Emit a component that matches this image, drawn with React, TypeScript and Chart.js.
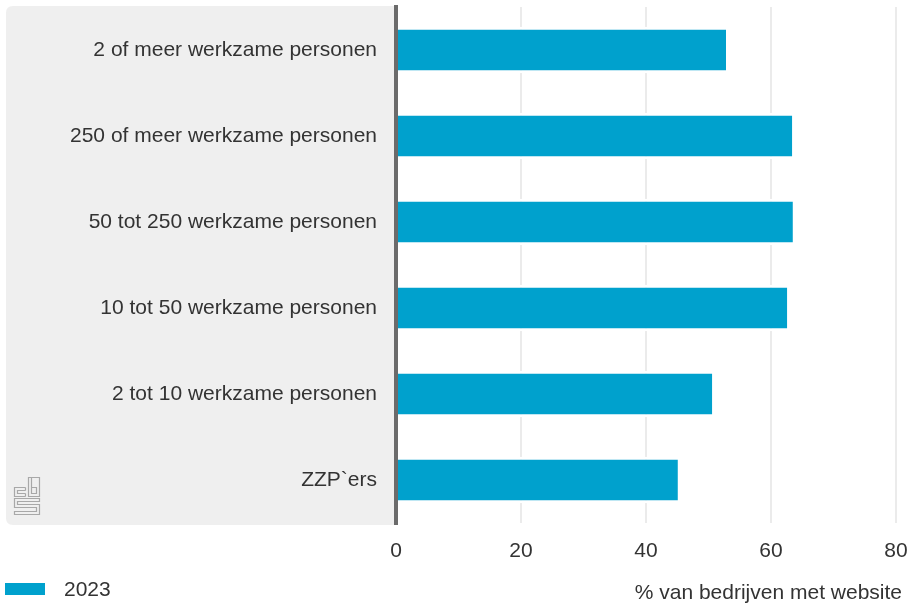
import React, { useEffect, useRef } from "react";
import { Chart, registerables } from "chart.js";

Chart.register(...registerables);

const categories = [
  "2 of meer werkzame personen",
  "250 of meer werkzame personen",
  "50 tot 250 werkzame personen",
  "10 tot 50 werkzame personen",
  "2 tot 10 werkzame personen",
  "ZZP`ers",
];
const values2023 = [52.8, 63.4, 63.5, 62.6, 50.6, 45.1];
const seriesLabel = "2023";
const xAxisTitle = "% van bedrijven met website";
const xMin = 0;
const xMax = 80;
const xStep = 20;

const FONT = "'Liberation Sans', Arial, sans-serif";
const BLUE = "#00a1cd";
const TEXT = "#333333";
const FS = 21;

const decorPlugin = {
  id: "decor",
  beforeDraw(chart: any) {
    const ctx = chart.ctx;
    const area = chart.chartArea;
    ctx.save();
    // gray panel behind category labels
    const x0 = 6, y0 = 6, x1 = area.left, y1 = 525, r = 7;
    ctx.fillStyle = "#efefef";
    ctx.beginPath();
    ctx.moveTo(x0 + r, y0);
    ctx.lineTo(x1, y0);
    ctx.lineTo(x1, y1);
    ctx.lineTo(x0 + r, y1);
    ctx.quadraticCurveTo(x0, y1, x0, y1 - r);
    ctx.lineTo(x0, y0 + r);
    ctx.quadraticCurveTo(x0, y0, x0 + r, y0);
    ctx.closePath();
    ctx.fill();

    // logo (cbs) approximation
    ctx.strokeStyle = "#a8a8a8";
    ctx.lineWidth = 1.2;
    const L = 14.5, T = 477.5;
    // c
    ctx.beginPath();
    ctx.moveTo(L + 11, T + 10); ctx.lineTo(L, T + 10); ctx.lineTo(L, T + 19); ctx.lineTo(L + 11, T + 19);
    ctx.moveTo(L + 11, T + 13); ctx.lineTo(L + 3, T + 13); ctx.lineTo(L + 3, T + 16); ctx.lineTo(L + 11, T + 16);
    ctx.moveTo(L + 11, T + 10); ctx.lineTo(L + 11, T + 13);
    ctx.moveTo(L + 11, T + 16); ctx.lineTo(L + 11, T + 19);
    ctx.stroke();
    // b
    ctx.beginPath();
    ctx.rect(L + 14, T, 11, 19);
    ctx.moveTo(L + 17, T); ctx.lineTo(L + 17, T + 10);
    ctx.rect(L + 17, T + 10, 5, 6);
    ctx.stroke();
    // S
    ctx.beginPath();
    ctx.moveTo(L + 25, T + 21); ctx.lineTo(L, T + 21); ctx.lineTo(L, T + 30); ctx.lineTo(L + 22, T + 30);
    ctx.lineTo(L + 22, T + 34); ctx.lineTo(L, T + 34); ctx.lineTo(L, T + 37); ctx.lineTo(L + 25, T + 37);
    ctx.lineTo(L + 25, T + 27); ctx.lineTo(L + 3, T + 27); ctx.lineTo(L + 3, T + 24); ctx.lineTo(L + 25, T + 24);
    ctx.closePath();
    ctx.stroke();
    ctx.restore();
  },
  afterDraw(chart: any) {
    const ctx = chart.ctx;
    const area = chart.chartArea;
    ctx.save();
    // axis line
    ctx.strokeStyle = "#6b6b6b";
    ctx.lineWidth = 4;
    ctx.beginPath();
    ctx.moveTo(area.left, 5);
    ctx.lineTo(area.left, 525);
    ctx.stroke();
    // legend
    ctx.fillStyle = BLUE;
    ctx.fillRect(5, 583, 40, 12);
    ctx.fillStyle = TEXT;
    ctx.font = `${FS}px ${FONT}`;
    ctx.textBaseline = "middle";
    ctx.textAlign = "left";
    ctx.fillText(seriesLabel, 64, 590);
    // axis title
    ctx.textAlign = "right";
    ctx.fillText(xAxisTitle, 902, 593);
    ctx.restore();
  },
};

export default function App() {
  const ref = useRef<HTMLCanvasElement | null>(null);
  useEffect(() => {
    if (!ref.current) return;
    const chart = new Chart(ref.current, {
      type: "bar",
      data: {
        labels: categories,
        datasets: [
          {
            label: seriesLabel,
            data: values2023,
            backgroundColor: BLUE,
            borderColor: "#ffffff",
            borderWidth: { top: 3, bottom: 3, left: 0, right: 0 },
            borderSkipped: false,
            barPercentage: 0.54,
            categoryPercentage: 1,
          },
        ],
      },
      options: {
        indexAxis: "y",
        responsive: false,
        animation: false,
        layout: { padding: { top: 7, right: 18, left: 0, bottom: 0 } },
        plugins: { legend: { display: false }, tooltip: { enabled: false }, title: { display: false } },
        scales: {
          x: {
            min: xMin,
            max: xMax,
            ticks: { stepSize: xStep, color: TEXT, font: { family: FONT, size: FS }, padding: 16, maxRotation: 0 },
            grid: {
              color: (c: any) => (c.tick && c.tick.value === 0 ? "rgba(0,0,0,0)" : "#ebebeb"),
              lineWidth: 2,
              drawTicks: false,
            },
            border: { display: false },
            afterFit: (s: any) => {
              s.height = 82;
              s.paddingLeft = 0;
              s.paddingRight = 0;
              s.paddingTop = 0;
              s.paddingBottom = 0;
            },
          },
          y: {
            ticks: { color: TEXT, font: { family: FONT, size: FS }, padding: 19 },
            grid: { display: false, drawTicks: false },
            border: { display: false },
            afterFit: (s: any) => {
              s.width = 396;
              s.paddingLeft = 0;
              s.paddingRight = 0;
              s.paddingTop = 0;
              s.paddingBottom = 0;
            },
          },
        },
      } as any,
      plugins: [decorPlugin],
    });
    return () => chart.destroy();
  }, []);
  return (
    <div style={{ position: "absolute", left: 0, top: 0, width: 914, height: 605, background: "#fff" }}>
      <canvas ref={ref} width={914} height={605} style={{ display: "block" }} />
    </div>
  );
}
